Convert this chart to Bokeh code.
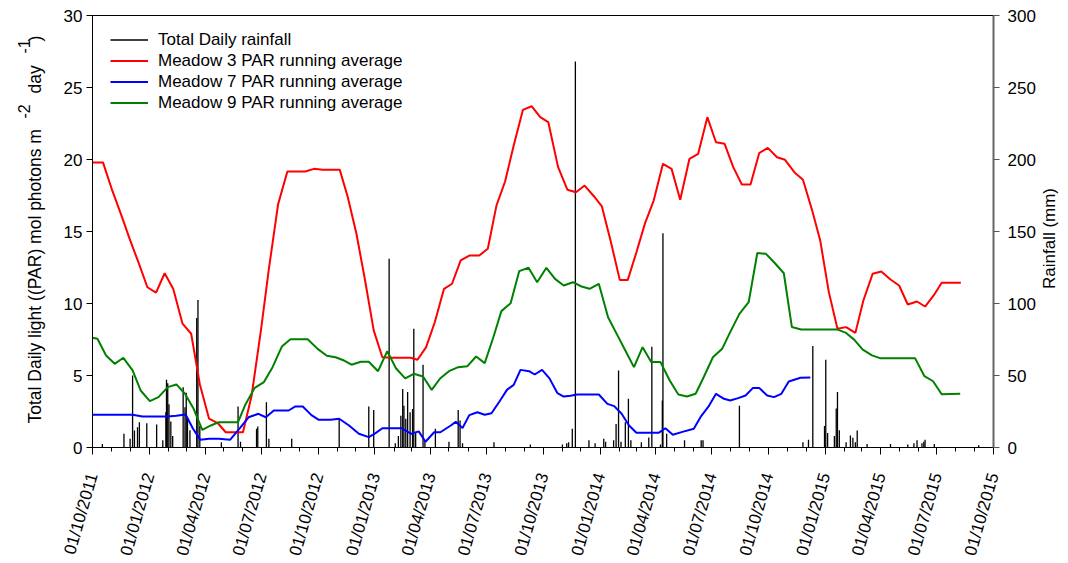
import math
import pandas as pd
from bokeh.plotting import figure
from bokeh.layouts import row
from bokeh.models import (Range1d, LinearAxis, FixedTicker, DatetimeTickFormatter,
                          Legend, LegendItem, ColumnDataSource, Label)
from bokeh.embed import file_html
from bokeh.resources import INLINE

START = "2011-10-01"
END = "2015-10-01"

# x tick labels (quarterly) and y ticks
tick_dates = ["2011-10-01", "2012-01-01", "2012-04-01", "2012-07-01", "2012-10-01",
              "2013-01-01", "2013-04-01", "2013-07-01", "2013-10-01", "2014-01-01",
              "2014-04-01", "2014-07-01", "2014-10-01", "2015-01-01", "2015-04-01",
              "2015-07-01", "2015-10-01"]
par_ticks = [0, 5, 10, 15, 20, 25, 30]
rain_ticks = [0, 50, 100, 150, 200, 250, 300]

# Meadow 3 PAR running average (days since 01/10/2011, mol photons m-2 day-1)
red_day = [0, 17, 32, 47, 61, 75, 89, 103, 117, 131, 146, 160, 174, 189, 203, 216, 231, 244,
           258, 273, 286, 301, 316, 331, 345, 359, 373, 387, 401, 414, 428, 442, 456, 470,
           486, 501, 516, 527, 541, 555, 570, 583, 597, 611, 627, 641, 655, 669, 683, 698,
           712, 726, 739, 755, 770, 784, 798, 813, 826, 840, 855, 868, 882, 896, 910, 925,
           939, 953, 968, 982, 997, 1011, 1025, 1039, 1053, 1067, 1081, 1095, 1110, 1123,
           1138, 1152, 1167, 1180, 1194, 1208, 1222, 1237, 1250, 1265, 1279, 1294, 1308,
           1322, 1337, 1350, 1364, 1377, 1392, 1408]
red_val = [19.8, 19.8, 17.85, 16.1, 14.4, 12.8, 11.13, 10.76, 12.1, 11.0, 8.6, 7.9, 4.4, 2.0,
           1.7, 1.06, 1.06, 1.06, 3.6, 8.1, 12.4, 16.9, 19.17, 19.17, 19.17, 19.35, 19.28,
           19.28, 19.28, 17.38, 14.84, 11.6, 8.13, 6.27, 6.23, 6.23, 6.23, 6.09, 6.97, 8.7,
           11.02, 11.37, 12.99, 13.33, 13.33, 13.8, 16.8, 18.47, 20.97, 23.45, 23.7, 22.94,
           22.6, 19.47, 17.9, 17.73, 18.19, 17.45, 16.74, 14.38, 11.64, 11.64, 13.56, 15.58,
           17.15, 19.7, 19.35, 17.2, 20.05, 20.39, 22.94, 21.2, 21.09, 19.47, 18.26, 18.26,
           20.44, 20.81, 20.16, 19.98, 19.12, 18.59, 16.46, 14.38, 10.79, 8.24, 8.36, 7.96,
           10.21, 12.06, 12.22, 11.67, 11.25, 9.93, 10.14, 9.79, 10.56, 11.44, 11.44, 11.44]

# Meadow 7 PAR running average
blue_day = [0, 14, 29, 43, 57, 65, 81, 94, 108, 122, 136, 151, 163, 175, 189, 205, 223, 239,
            253, 269, 281, 294, 307, 318, 329, 341, 355, 367, 386, 400, 416, 432, 448, 459,
            470, 486, 501, 517, 529, 540, 554, 564, 581, 589, 600, 611, 624, 636, 647, 661,
            672, 683, 694, 708, 717, 729, 741, 754, 764, 775, 786, 804, 821, 835, 846, 858,
            870, 882, 900, 918, 929, 941, 958, 975, 987, 999, 1011, 1024, 1034, 1047, 1059,
            1071, 1081, 1094, 1105, 1117, 1129, 1148, 1164]
blue_val = [2.27, 2.27, 2.27, 2.27, 2.27, 2.27, 2.15, 2.15, 2.15, 2.15, 2.2, 2.29, 1.3, 0.53,
            0.6, 0.6, 0.53, 1.35, 2.1, 2.34, 2.1, 2.57, 2.57, 2.57, 2.85, 2.85, 2.25, 1.92,
            1.92, 2.0, 1.53, 0.95, 0.72, 1.0, 1.34, 1.34, 1.34, 0.95, 1.12, 0.4, 1.06, 1.06,
            1.53, 1.78, 1.36, 2.25, 2.45, 2.27, 2.38, 3.26, 4.0, 4.35, 5.39, 5.3, 5.07, 5.39,
            4.8, 3.77, 3.54, 3.6, 3.68, 3.68, 3.68, 3.03, 2.87, 2.34, 1.53, 1.02, 1.02, 1.02,
            1.34, 0.88, 1.1, 1.3, 2.18, 2.85, 3.73, 3.38, 3.26, 3.43, 3.61, 4.14, 4.14, 3.61,
            3.5, 3.73, 4.58, 4.84, 4.86]

# Meadow 9 PAR running average
green_day = [0, 8, 22, 36, 50, 65, 78, 93, 107, 122, 136, 150, 164, 178, 192, 205, 221, 236,
             248, 263, 278, 292, 307, 321, 335, 349, 365, 380, 394, 408, 420, 435, 448, 463,
             478, 492, 507, 521, 536, 550, 564, 578, 593, 608, 622, 636, 650, 663, 678, 692,
             707, 721, 736, 750, 764, 779, 793, 806, 821, 836, 850, 864, 878, 892, 906, 921,
             936, 950, 964, 978, 991, 1006, 1021, 1034, 1049, 1064, 1078, 1092, 1107, 1121,
             1134, 1149, 1164, 1178, 1193, 1207, 1221, 1235, 1249, 1264, 1278, 1292, 1306,
             1320, 1334, 1349, 1363, 1377, 1392, 1407]
green_val = [7.62, 7.55, 6.39, 5.81, 6.23, 5.35, 3.96, 3.22, 3.5, 4.19, 4.38, 3.73, 2.69, 1.23,
             1.53, 1.76, 1.76, 1.76, 2.99, 4.14, 4.54, 5.58, 7.01, 7.52, 7.52, 7.52, 6.85,
             6.37, 6.27, 6.04, 5.75, 5.95, 5.95, 5.3, 6.69, 5.5, 4.8, 5.12, 4.93, 4.0, 4.81,
             5.3, 5.58, 5.65, 6.32, 5.86, 7.66, 9.47, 10.02, 12.25, 12.48, 11.48, 12.48, 11.71,
             11.25, 11.48, 11.18, 11.02, 11.37, 9.05, 7.89, 6.74, 5.58, 6.97, 5.93, 5.93, 4.65,
             3.68, 3.54, 3.73, 4.88, 6.27, 6.85, 8.01, 9.28, 10.09, 13.5, 13.45, 12.78, 12.1,
             8.37, 8.2, 8.2, 8.2, 8.2, 8.2, 7.98, 7.49, 6.79, 6.4, 6.19, 6.19, 6.19, 6.19,
             6.19, 4.95, 4.6, 3.7, 3.72, 3.73]

# Total daily rainfall (days since 01/10/2011, mm)
rain_day = [16, 51, 61, 65, 68, 73, 76, 88, 104, 114, 119, 120, 122, 124, 127, 130, 147, 150,
            152, 154, 158, 169, 171, 174, 209, 236, 240, 266, 268, 282, 286, 323, 400, 448,
            456, 481, 491, 496, 500, 503, 505, 508, 511, 515, 519, 521, 524, 536, 539, 556,
            578, 593, 596, 600, 651, 710, 762, 769, 772, 778, 783, 805, 815, 829, 832, 845,
            849, 853, 857, 864, 869, 873, 890, 902, 907, 921, 924, 925, 931, 960, 987, 990,
            1049, 1152, 1161, 1168, 1187, 1189, 1192, 1203, 1206, 1208, 1211, 1222, 1229,
            1233, 1237, 1240, 1256, 1294, 1322, 1332, 1337, 1345, 1348, 1350, 1365, 1437]
rain_mm = [2.5, 9.5, 6, 50, 11.8, 14, 17.6, 16.9, 16, 5, 24.5, 47, 44.7, 30, 18, 8, 41.9, 28,
           38, 20, 12, 90, 102.5, 15, 3.7, 28.5, 4, 13, 14.6, 31.5, 6, 6, 20, 28.5, 26, 131,
           3, 8, 22, 40.7, 29, 20, 38.5, 24.5, 26.8, 82.4, 10, 57.4, 5, 13, 4, 26, 18.7, 3,
           3.7, 2, 2, 3, 3.7, 13, 268, 5, 3, 6, 4, 5, 16.4, 53.5, 4, 17.6, 33.8, 5, 3.7, 7,
           70, 2, 32.6, 148.8, 9.5, 5, 5, 5, 29, 3.7, 5.3, 70.4, 15, 61, 10, 8, 27, 38.5, 12,
           3.7, 8.3, 6.7, 3.7, 11.8, 2.5, 2.5, 2, 3, 5, 3, 4, 5.3, 2.5, 1.5]

# axis titles (left one with superscripts)
LEFT_TITLE_PARTS = ["Total Daily light ((PAR) mol photons m", "-2", "day", "-1", ")"]
RIGHT_TITLE = "Rainfall (mm)"
FONT = "Liberation Sans"
H = 563


def to_dates(days):
    return pd.Timestamp(START) + pd.to_timedelta(days, unit="D")


def ms(ts):
    return pd.Timestamp(ts).value / 1e6


def side_fig(w):
    f = figure(width=w, height=H, toolbar_location=None, output_backend="svg",
               x_range=Range1d(0, 1), y_range=Range1d(0, 1),
               x_axis_location=None, y_axis_location=None, min_border=0)
    f.outline_line_color = None
    f.grid.visible = False
    f.background_fill_color = "white"
    f.border_fill_color = "white"
    return f


def vlabel(f, x, y, text, size, align="left", baseline="alphabetic"):
    f.add_layout(Label(x=x, y=y, x_units="screen", y_units="screen", text=text,
                       angle=math.pi / 2, text_font=FONT, text_font_size=size,
                       text_align=align, text_baseline=baseline, text_color="black"))


# ---- main plot
p = figure(width=990, height=H, x_axis_type="datetime", output_backend="svg",
           toolbar_location=None,
           x_range=Range1d(pd.Timestamp(START), pd.Timestamp(END)),
           y_range=Range1d(0, 30),
           min_border_left=42, min_border_right=47, min_border_top=15, min_border_bottom=116)
p.extra_y_ranges = {"rain": Range1d(0, 300)}
p.xgrid.visible = False
p.ygrid.visible = False
p.outline_line_color = "black"
p.outline_line_width = 1
p.background_fill_color = "white"
p.border_fill_color = "white"

rain_src = ColumnDataSource(dict(x=to_dates(rain_day), y0=[0] * len(rain_mm), y1=rain_mm))
r_rain = p.segment(x0="x", y0="y0", x1="x", y1="y1", source=rain_src, y_range_name="rain",
                   line_color="black", line_width=1.3)

r_red = p.line(to_dates(red_day), red_val, line_color="#ff0000", line_width=2)
r_blue = p.line(to_dates(blue_day), blue_val, line_color="#0000ff", line_width=2)
r_green = p.line(to_dates(green_day), green_val, line_color="#008000", line_width=2)

xa = p.xaxis[0]
xa.ticker = FixedTicker(ticks=[ms(d) for d in tick_dates],
                        minor_ticks=[ms(d) for d in pd.date_range(START, END, freq="MS")])
fmt = "%d/%m/%Y"
xa.formatter = DatetimeTickFormatter(microseconds=fmt, milliseconds=fmt, seconds=fmt,
                                     minsec=fmt, minutes=fmt, hourmin=fmt, hours=fmt,
                                     days=fmt, months=fmt, years=fmt)
xa.major_label_orientation = math.radians(74)
xa.major_label_text_font = FONT
xa.major_label_text_font_size = "17px"
xa.major_label_text_color = "black"
xa.major_tick_out = 7
xa.major_tick_in = 0
xa.minor_tick_out = 4
xa.minor_tick_in = 0
xa.axis_line_color = "black"
xa.major_label_standoff = 19

ya = p.yaxis[0]
ya.ticker = FixedTicker(ticks=par_ticks)
ya.major_label_text_font = FONT
ya.major_label_text_font_size = "17px"
ya.major_label_text_color = "black"
ya.major_tick_out = 6
ya.major_tick_in = 0
ya.minor_tick_line_color = None
ya.axis_line_color = "black"
ya.major_label_standoff = 4

ra = LinearAxis(y_range_name="rain", ticker=FixedTicker(ticks=rain_ticks))
ra.major_label_text_font = FONT
ra.major_label_text_font_size = "17px"
ra.major_label_text_color = "black"
ra.major_tick_out = 6
ra.major_tick_in = 0
ra.minor_tick_line_color = None
ra.axis_line_color = "#666666"
ra.axis_line_width = 2
ra.major_tick_line_color = "#555555"
ra.major_label_standoff = 8
p.add_layout(ra, "right")

legend = Legend(items=[
    LegendItem(label="Total Daily rainfall", renderers=[r_rain]),
    LegendItem(label="Meadow 3 PAR running average", renderers=[r_red]),
    LegendItem(label="Meadow 7 PAR running average", renderers=[r_blue]),
    LegendItem(label="Meadow 9 PAR running average", renderers=[r_green]),
], location=(18, 334))
legend.background_fill_alpha = 0
legend.border_line_color = None
legend.label_text_font = FONT
legend.label_text_font_size = "17px"
legend.label_text_color = "black"
legend.glyph_width = 38
legend.glyph_height = 21
legend.label_height = 21
legend.spacing = 0
legend.padding = 0
legend.margin = 0
legend.label_standoff = 10
p.add_layout(legend)

# ---- left title strip (50 px wide); its frame lines up with the main frame
lf = side_fig(50)
vlabel(lf, 34.5, 24, LEFT_TITLE_PARTS[0], "17.5px")
vlabel(lf, 23.5, 329, LEFT_TITLE_PARTS[1], "16px")
vlabel(lf, 34.5, 354, LEFT_TITLE_PARTS[2], "17.5px")
vlabel(lf, 23.5, 394, LEFT_TITLE_PARTS[3], "16px")
vlabel(lf, 34.5, 406, LEFT_TITLE_PARTS[4], "17.5px")

# ---- right title strip (28 px wide)
rf = side_fig(28)
vlabel(rf, 9, 209, RIGHT_TITLE, "17px", align="center")

layout = row(lf, p, rf, spacing=0)
open("out.html", "w").write(file_html(layout, INLINE))
